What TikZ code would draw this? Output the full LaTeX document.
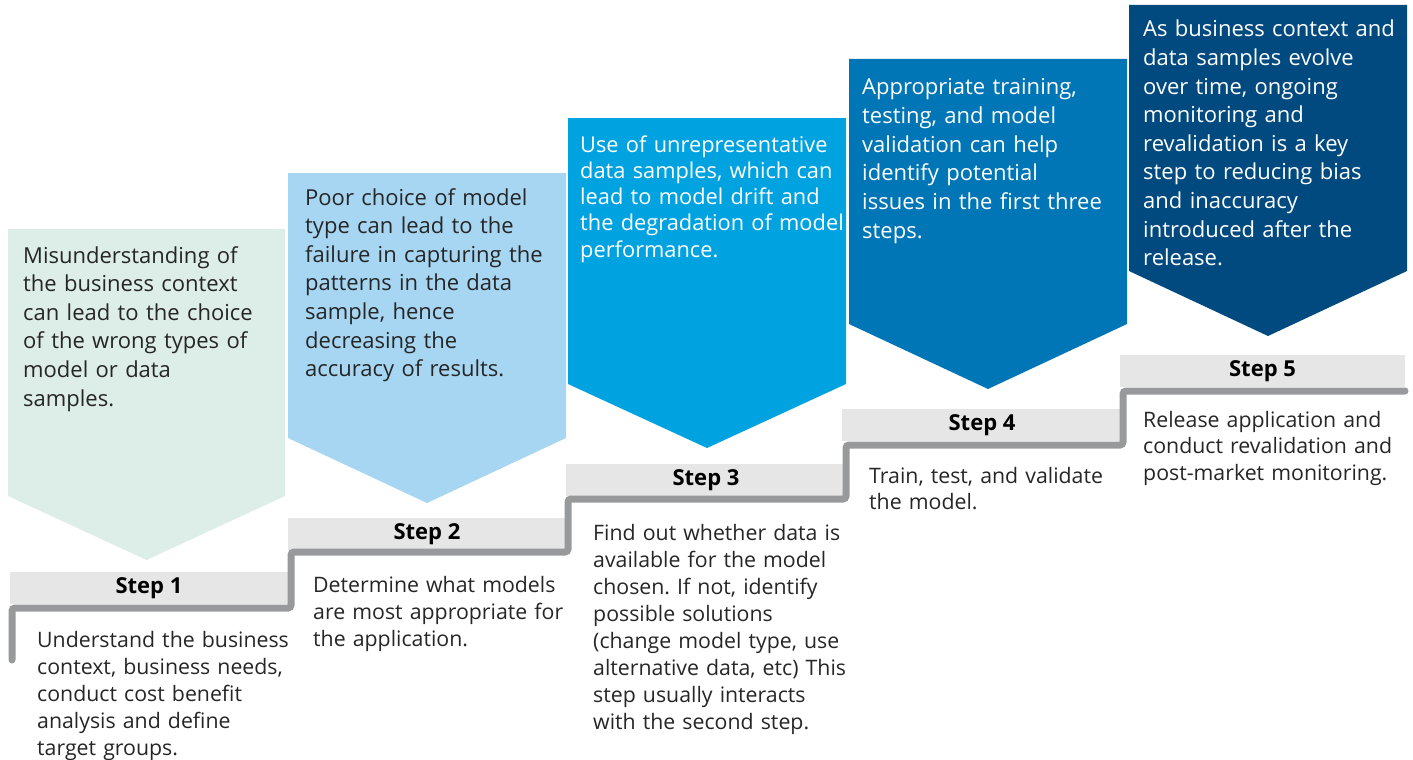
\documentclass[tikz,border=0pt]{standalone}
\usepackage{fontspec}
\setmainfont{Open Sans}
\frenchspacing
\definecolor{cA}{HTML}{DDEDE7}
\definecolor{cB}{HTML}{A7D6F3}
\definecolor{cC}{HTML}{00A3E0}
\definecolor{cD}{HTML}{0076B6}
\definecolor{cE}{HTML}{004A80}
\definecolor{barg}{HTML}{E6E6E6}
\definecolor{lineg}{HTML}{97999B}
\definecolor{ink}{HTML}{262626}
\begin{document}
\begin{tikzpicture}[x=1pt,y=-1pt,
  ctext/.style={anchor=base west, inner sep=0pt, text width=320pt, align=left, font=\fontsize{22}{28.6}\selectfont},
  dtext/.style={anchor=base west, inner sep=0pt, text width=320pt, align=left, text=ink, font=\fontsize{21.3}{27.2}\selectfont},
  bar/.style={fill=barg, minimum height=32pt, inner sep=0pt, text=black, font=\fontsize{22}{24}\selectfont\bfseries},
  stair/.style={draw=lineg, line width=7pt, rounded corners=3pt, line cap=round}]
\useasboundingbox (0,0) rectangle (1413,760);
% chevrons
\fill[cA] (8,229) -- (285,229) -- (285,496) -- (146.5,560) -- (8,496) -- cycle;
\fill[cB] (288,173) -- (566,173) -- (566,438) -- (427,503) -- (288,438) -- cycle;
\fill[cC] (568,118) -- (846,118) -- (846,384) -- (707,448) -- (568,384) -- cycle;
\fill[cD] (849,59) -- (1127,59) -- (1127,324) -- (988,389) -- (849,324) -- cycle;
\fill[cE] (1129,5) -- (1407,5) -- (1407,271) -- (1268,336) -- (1129,271) -- cycle;
% chevron texts
\node[ctext, text=ink] (t1) at (23,263) {Misunderstanding of\\the business context\\can lead to the choice\\of the wrong types of\\model or data\\samples.};
\node[ctext, text=ink] (t2) at (305,205) {Poor choice of model\\type can lead to the\\failure in capturing the\\patterns in the data\\sample, hence\\decreasing the\\accuracy of results.};
\node[ctext, text=white, font=\fontsize{21.8}{26.3}\selectfont] (t3) at (580,152) {Use of unrepresentative\\data samples, which can\\lead to model drift and\\the degradation of model\\performance.};
\node[ctext, text=white] (t4) at (862,95) {Appropriate training,\\testing, and model\\validation can help\\identify potential\\issues in the first three\\steps.};
\node[ctext, text=white] (t5) at (1143,37) {As business context and\\data samples evolve\\over time, ongoing\\monitoring and\\revalidation is a key\\step to reducing bias\\and inaccuracy\\introduced after the\\release.};
% bars
\node[bar, minimum width=278pt] (s1) at (149,588) {Step 1};
\node[bar, minimum width=278pt] (s2) at (427,534) {Step 2};
\node[bar, minimum width=280pt] (s3) at (706,480) {Step 3};
\node[bar, minimum width=280pt] (s4) at (982,425) {Step 4};
\node[bar, minimum width=285pt] (s5) at (1262.5,371) {Step 5};
% staircase
\draw[stair] (12,660) -- (12,608) -- (291,608) -- (291,552) -- (568,552) -- (568,499) -- (846,499) -- (846,445) -- (1123,445) -- (1123,391) -- (1405,391);
% descriptions
\node[dtext] (d1) at (37,647) {Understand the business\\context, business needs,\\conduct cost benefit\\analysis and define\\target groups.};
\node[dtext, font=\fontsize{21.3}{27}\selectfont] (d2) at (313,592) {Determine what models\\are most appropriate for\\the application.};
\node[dtext, font=\fontsize{21.3}{27}\selectfont] (d3) at (593,540) {Find out whether data is\\available for the model\\chosen. If not, identify\\possible solutions\\(change model type, use\\alternative data, etc) This\\step usually interacts\\with the second step.};
\node[dtext, font=\fontsize{21.3}{26.5}\selectfont] (d4) at (869,483) {Train, test, and validate\\the model.};
\node[dtext, font=\fontsize{21.3}{26.5}\selectfont] (d5) at (1143,427) {Release application and\\conduct revalidation and\\post-market monitoring.};
\end{tikzpicture}
\end{document}
